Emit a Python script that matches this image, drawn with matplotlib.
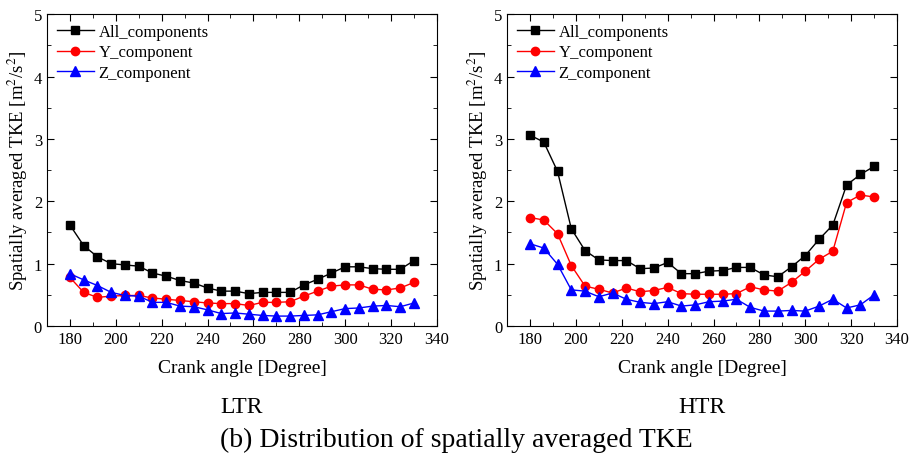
import matplotlib.pyplot as plt
from matplotlib.ticker import MultipleLocator

plt.rcParams['font.family'] = ['Liberation Serif', 'DejaVu Serif']
plt.rcParams['mathtext.fontset'] = 'stix'

crank = list(range(180, 331, 6))

ltr_all = [1.62, 1.29, 1.11, 1.00, 0.98, 0.96, 0.85, 0.80, 0.73, 0.69, 0.61, 0.56, 0.56,
           0.52, 0.54, 0.54, 0.54, 0.66, 0.75, 0.85, 0.95, 0.95, 0.92, 0.91, 0.91, 1.05]
ltr_y = [0.78, 0.54, 0.46, 0.48, 0.49, 0.49, 0.45, 0.43, 0.41, 0.39, 0.37, 0.36, 0.36,
         0.33, 0.38, 0.38, 0.39, 0.48, 0.56, 0.64, 0.66, 0.66, 0.59, 0.58, 0.61, 0.70]
ltr_z = [0.84, 0.74, 0.65, 0.54, 0.49, 0.48, 0.38, 0.38, 0.32, 0.31, 0.26, 0.20, 0.21,
         0.19, 0.17, 0.16, 0.16, 0.17, 0.18, 0.23, 0.28, 0.29, 0.32, 0.33, 0.31, 0.37]

htr_all = [3.06, 2.95, 2.48, 1.56, 1.21, 1.06, 1.05, 1.05, 0.92, 0.93, 1.02, 0.84, 0.84,
           0.88, 0.89, 0.94, 0.94, 0.82, 0.79, 0.95, 1.13, 1.39, 1.62, 2.26, 2.43, 2.56]
htr_y = [1.74, 1.70, 1.48, 0.97, 0.64, 0.59, 0.53, 0.61, 0.55, 0.57, 0.62, 0.52, 0.51,
         0.51, 0.51, 0.52, 0.63, 0.58, 0.56, 0.70, 0.88, 1.07, 1.20, 1.98, 2.10, 2.07]
htr_z = [1.32, 1.25, 0.99, 0.58, 0.56, 0.47, 0.53, 0.43, 0.38, 0.36, 0.39, 0.32, 0.34,
         0.39, 0.40, 0.43, 0.30, 0.24, 0.24, 0.25, 0.24, 0.32, 0.43, 0.29, 0.34, 0.50]

panels = [('LTR', ltr_all, ltr_y, ltr_z), ('HTR', htr_all, htr_y, htr_z)]

fig = plt.figure(figsize=(9.12, 4.6), dpi=100)
lefts = [0.0515, 0.556]

for left, (name, a, yc, zc) in zip(lefts, panels):
    ax = fig.add_axes([left, 0.289, 0.4276, 0.678])
    ax.plot(crank, a, 'k-s', lw=1, ms=5.5, label='All_components')
    ax.plot(crank, yc, '-o', color='red', lw=1, ms=6, label='Y_component')
    ax.plot(crank, zc, '-^', color='blue', lw=1, ms=6.5, label='Z_component')

    ax.set_xlim(170, 340)
    ax.set_ylim(0, 5)
    ax.xaxis.set_major_locator(MultipleLocator(20))
    ax.xaxis.set_minor_locator(MultipleLocator(10))
    ax.yaxis.set_major_locator(MultipleLocator(1))
    ax.yaxis.set_minor_locator(MultipleLocator(0.5))
    ax.set_xticks(range(180, 341, 20))
    ax.tick_params(which='both', direction='in', top=True, right=True, labelsize=12)
    ax.tick_params(which='major', length=5)
    ax.tick_params(which='minor', length=3)
    ax.set_xlabel('Crank angle [Degree]', fontsize=14, labelpad=9)
    ax.set_ylabel('Spatially averaged TKE [m$^2$/s$^2$]', fontsize=13.5, labelpad=3)
    ax.legend(loc='upper left', frameon=False, fontsize=12, handlelength=2.2,
              borderaxespad=0.2, labelspacing=0.25, handletextpad=0.3)
    ax.text(0.5, -0.225, name, transform=ax.transAxes, ha='center', va='top', fontsize=17)

fig.text(0.5, 0.015, '(b) Distribution of spatially averaged TKE', ha='center',
         va='bottom', fontsize=20)

fig.savefig('out.png', dpi=100)
